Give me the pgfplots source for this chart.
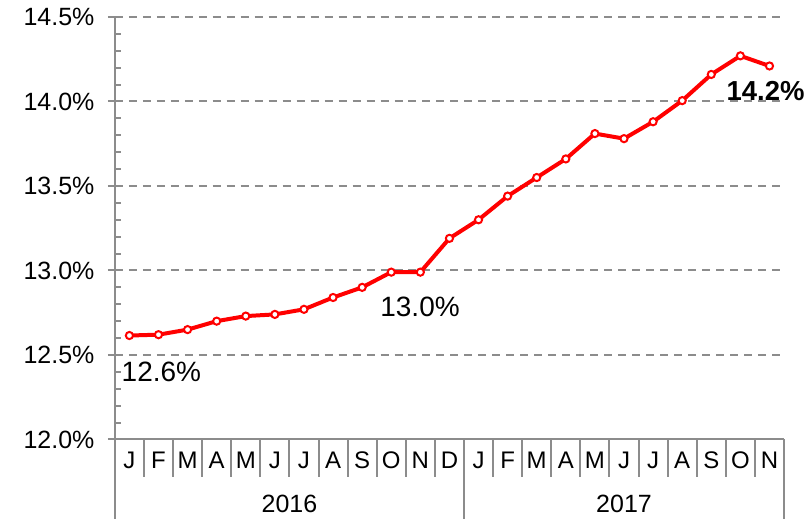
\documentclass[border=0pt]{standalone}
\usepackage{fontspec}
\setmainfont{Liberation Sans}
\usepackage{pgfplots}
\pgfplotsset{compat=1.18}
\definecolor{axgray}{HTML}{8C8C8C}
\definecolor{gridgray}{HTML}{8C8C8C}
\begin{document}
\begin{tikzpicture}
\begin{axis}[
  scale only axis, width=670pt, height=423pt,
  xmin=-0.5, xmax=22.5, ymin=12, ymax=14.5,
  axis x line*=bottom, axis y line*=left,
  axis line style={axgray, line width=2pt, -},
  xtick={0,...,22},
  xticklabels={J,F,M,A,M,J,J,A,S,O,N,D,J,F,M,A,M,J,J,A,S,O,N},
  x tick label style={font=\fontsize{24}{28}\selectfont, yshift=-2pt},
  x tick style={draw=none},
  ytick={12,12.5,13,13.5,14,14.5},
  yticklabels={12.0\%,12.5\%,13.0\%,13.5\%,14.0\%,14.5\%},
  y tick label style={font=\fontsize{25}{30}\selectfont, xshift=-10pt},
  minor y tick num=4,
  tick align=outside,
  major tick length=7pt, minor tick length=-6pt,
  y tick style={axgray, line width=2pt},
  ymajorgrids,
  major grid style={gridgray, dash pattern=on 8pt off 6pt, line width=2pt},
  clip=false,
]
\addplot[red, line width=4pt, mark=*, mark size=3.6pt,
  mark options={fill=white, draw=red, line width=2pt, solid}] coordinates {
  (0,12.615) (1,12.62) (2,12.65) (3,12.70) (4,12.73) (5,12.74) (6,12.77)
  (7,12.84) (8,12.90) (9,12.99) (10,12.99) (11,13.19) (12,13.30) (13,13.44)
  (14,13.55) (15,13.66) (16,13.81) (17,13.78) (18,13.88) (19,14.005)
  (20,14.16) (21,14.27) (22,14.21)
};
\pgfplotsinvokeforeach{-0.5,0.5,...,22.5}{
  \draw[axgray, line width=2pt] (axis cs:#1,12) -- ([yshift=-38pt]axis cs:#1,12);
}
\pgfplotsinvokeforeach{-0.5,11.5,22.5}{
  \draw[axgray, line width=2pt] (axis cs:#1,12) -- ([yshift=-80pt]axis cs:#1,12);
}
\draw[axgray, line width=2pt] (axis cs:-0.5,12) -- ([xshift=-7pt]axis cs:-0.5,12);
\node[font=\fontsize{25}{30}\selectfont] at ([yshift=-65pt]axis cs:5.5,12) {2016};
\node[font=\fontsize{25}{30}\selectfont] at ([yshift=-65pt]axis cs:17,12) {2017};
\node[anchor=west, inner sep=0pt, font=\fontsize{28}{32}\selectfont] at (axis cs:-0.27,12.40) {12.6\%};
\node[anchor=west, inner sep=0pt, font=\fontsize{28}{32}\selectfont] at (axis cs:8.62,12.787) {13.0\%};
\node[anchor=west, inner sep=0pt, font=\bfseries\fontsize{27.5}{32}\selectfont] at (axis cs:20.52,14.06) {14.2\%};
\end{axis}
\path ([shift={(-115pt,-80pt)}]current axis.south west) rectangle ([shift={(23pt,17pt)}]current axis.north east);
\end{tikzpicture}
\end{document}
